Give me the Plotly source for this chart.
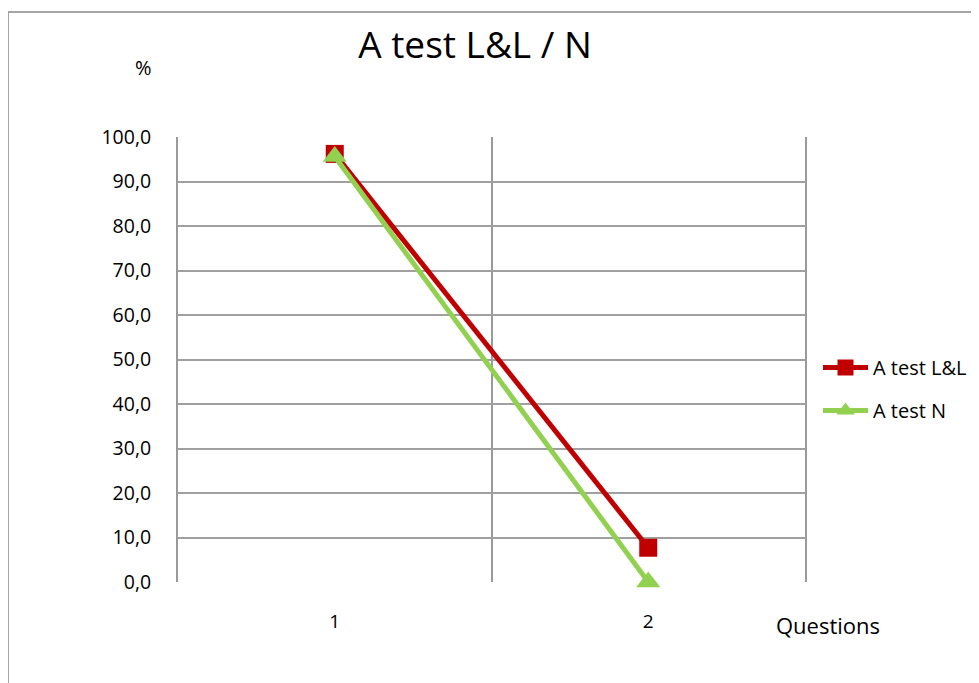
import plotly.graph_objects as go

categories = [1, 2]
ll_values = [96.2, 7.7]
n_values = [95.6, 0.0]
series_names = ["A test L&L", "A test N"]
title_text = "A test L&L / N"
y_label = "%"
x_label = "Questions"

# page body has an 8px margin; work in screen coordinates and shift
OFF = 8
W, H = 979 - OFF, 683 - OFF
L, R, T, B = 178 - OFF, 805 - OFF, 137 - OFF, 582 - OFF
FONT = "Open Sans, Lato, sans-serif"

fig = go.Figure()
fig.add_trace(go.Scatter(x=categories, y=ll_values, name=series_names[0], mode="lines+markers",
                         legendgroup="a", cliponaxis=False,
                         line=dict(color="#C00000", width=5),
                         marker=dict(symbol="square", size=18, color="#C00000")))
fig.add_trace(go.Scatter(x=categories, y=n_values, name=series_names[1], mode="lines+markers",
                         legendgroup="b", cliponaxis=False,
                         line=dict(color="#92D050", width=5),
                         marker=dict(symbol="triangle-up", size=21, color="#92D050")))

def px(x):
    return (x - OFF - L) / (R - L)

def py(y):
    return (B - (y - OFF)) / (B - T)

fig.update_layout(
    width=W, height=H,
    margin=dict(l=L, r=W - R, t=T, b=H - B, pad=0, autoexpand=False),
    paper_bgcolor="white", plot_bgcolor="white",
    separators=",.",
    font=dict(family=FONT, color="#000000"),
    title=dict(text=title_text, x=(475 - OFF) / W, xanchor="center", y=1 - (45 - OFF) / H, yanchor="middle",
               font=dict(size=37, family=FONT, color="#000000")),
    showlegend=True,
    legend=dict(x=px(818), xanchor="left", y=py(389), yanchor="middle",
                font=dict(size=20, family=FONT), itemwidth=45, tracegroupgap=14,
                bgcolor="rgba(0,0,0,0)"),
    xaxis=dict(range=[0.5, 2.5], tickvals=categories, ticktext=[str(c) for c in categories],
               showgrid=False, zeroline=False, showline=False, ticks="",
               ticklabelstandoff=26, tickfont=dict(size=19, family=FONT),
               minor=dict(tickvals=[1.5], showgrid=True, gridcolor="#9a9a9a", gridwidth=2, ticks="")),
    yaxis=dict(range=[0, 100], dtick=10, tick0=0, tickformat=".1f",
               showgrid=True, gridcolor="#a0a0a0", gridwidth=2,
               zeroline=False, showline=True, mirror=True, linecolor="#9a9a9a", linewidth=2,
               ticks="", ticklabelstandoff=21, tickfont=dict(size=19.5, family=FONT)),
    annotations=[
        dict(text=y_label, xref="paper", yref="paper", x=px(143), y=py(67), showarrow=False,
             xanchor="center", yanchor="middle", font=dict(size=20, family=FONT)),
        dict(text=x_label, xref="paper", yref="paper", x=px(828), y=py(625), showarrow=False,
             xanchor="center", yanchor="middle", font=dict(size=22, family=FONT)),
    ],
    shapes=[
        dict(type="line", xref="paper", yref="paper", x0=px(8), x1=px(8), y0=py(12), y1=py(700),
             line=dict(color="#a6a6a6", width=2)),
        dict(type="line", xref="paper", yref="paper", x0=px(8), x1=px(1000), y0=py(12), y1=py(12),
             line=dict(color="#a6a6a6", width=2)),
    ],
)

fig.write_html("out.html")
